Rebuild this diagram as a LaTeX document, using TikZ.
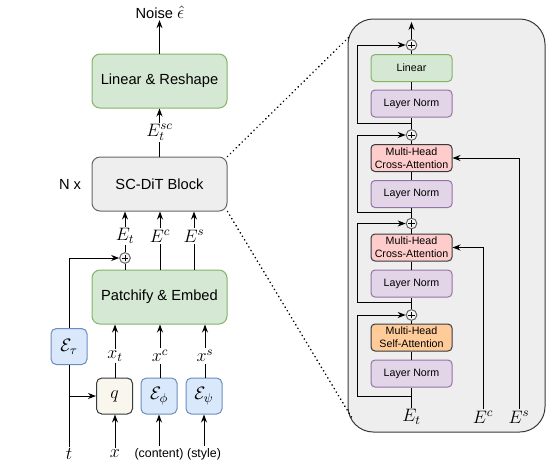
\RequirePackage{fix-cm}
\documentclass[tikz,border=0pt]{standalone}
\usepackage{fontspec}
\setmainfont{Liberation Sans}
\usetikzlibrary{arrows.meta}

\definecolor{grnfill}{HTML}{D5E8D4}
\definecolor{grnline}{HTML}{82B366}
\definecolor{blufill}{HTML}{DAE8FC}
\definecolor{bluline}{HTML}{6C8EBF}
\definecolor{purfill}{HTML}{E1D5E7}
\definecolor{purline}{HTML}{9673A6}
\definecolor{redfill}{HTML}{FFCCCC}
\definecolor{orgfill}{HTML}{FFCC99}
\definecolor{qfill}{HTML}{F9F7ED}
\definecolor{darkline}{HTML}{36393D}
\definecolor{grayfill}{HTML}{EEEEEE}
\definecolor{grayline}{HTML}{666666}

\tikzset{every picture/.style={line width=0.75pt}}
\tikzset{
  arr/.style={-{Stealth[length=6pt,width=4.5pt]}},
  bigbox/.style={draw, rounded corners=6pt, minimum width=101.25pt, minimum height=40.5pt, font=\fontsize{11}{13}\selectfont},
  encbox/.style={draw=bluline, fill=blufill, rounded corners=4pt, minimum width=27pt, minimum height=27pt, font=\fontsize{13.5}{15}\selectfont},
  blkbox/.style={draw, rounded corners=3pt, minimum width=60.75pt, minimum height=20.25pt, inner sep=1pt, align=center, font=\fontsize{8}{10}\selectfont},
  lnbox/.style={blkbox, draw=purline, fill=purfill},
  plus/.style={circle, draw=grayline, fill=white!96!black, minimum size=8pt, inner sep=0pt,
    path picture={\draw[line width=0.6pt, black] ([xshift=-2.5pt]path picture bounding box.center) -- ([xshift=2.5pt]path picture bounding box.center)
      ([yshift=-2.5pt]path picture bounding box.center) -- ([yshift=2.5pt]path picture bounding box.center);}},
  lbl/.style={inner sep=1pt, font=\fontsize{13.5}{15}\selectfont},
  txt/.style={inner sep=1pt, font=\fontsize{11}{13}\selectfont},
  dots/.style={line width=1.3pt, dash pattern=on 0.1pt off 3pt, line cap=round}
}

\begin{document}
\begin{tikzpicture}[x=0.75pt,y=0.75pt,yscale=-1,xscale=1]
\useasboundingbox (0,0) rectangle (548,469);

%Shape: Rounded Rectangle (block detail)
\draw [draw=darkline, fill=grayfill, rounded corners=19pt] (348,19) rectangle (545,432);

% Left column boxes
\node [bigbox, draw=grnline, fill=grnfill] (reshape) at (159.5,81) {Linear \& Reshape};
\node [bigbox, draw=grayline, fill=grayfill] (dit) at (159.5,184) {SC-DiT Block};
\node [bigbox, draw=grnline, fill=grnfill] (patch) at (159.5,297) {Patchify \& Embed};
\node [encbox, draw=darkline, fill=qfill] (q) at (114.5,396) {$q$};
\node [encbox] (ephi) at (159,396) {$\mathcal{E}_\phi$};
\node [encbox] (epsi) at (204,396) {$\mathcal{E}_\psi$};
\node [encbox] (etau) at (69,346.5) {$\mathcal{E}_\tau$};
\node [plus] (addL) at (125,258) {};

% Text Node
\node [txt] (noise) at (160,12) {Noise {\fontsize{13.5}{15}\selectfont$\hat{\epsilon}$}};
\node [txt] (nx) at (70,184) {N x};
\node [lbl] (et) at (125,236) {$E_t$};
\node [lbl] (ec) at (160,236) {$E^c$};
\node [lbl] (es) at (194,236) {$E^s$};
\node [lbl] (xt) at (115,356) {$x_t$};
\node [lbl] (xc) at (160,356) {$x^c$};
\node [lbl] (xs) at (205,356) {$x^s$};
\node [lbl] (tin) at (69,454) {$t$};
\node [lbl] (xin) at (115,454) {$x$};
\node [txt, font=\fontsize{9.3}{11}\selectfont] (cin) at (159,454) {(content)};
\node [txt, font=\fontsize{9.3}{11}\selectfont] (sin) at (204,454) {(style)};

%Straight Lines
\draw [arr] (reshape.north) -- (reshape.north |- noise.south);
\draw [arr] (dit.north) -- node [lbl, fill=white, inner sep=0.5pt] {$E_t^{sc}$} (reshape.south);
\draw [arr] (et.north) -- (et.north |- dit.south);
\draw [arr] (ec.north) -- (ec.north |- dit.south);
\draw [arr] (es.north) -- (es.north |- dit.south);
\draw (addL.north) -- (et.south);
\draw (addL.south |- patch.north) -- (addL.south);
\draw (ec.south |- patch.north) -- (ec.south);
\draw (es.south |- patch.north) -- (es.south);
\draw [arr] (xt.north) -- (xt.north |- patch.south);
\draw [arr] (xc.north) -- (xc.north |- patch.south);
\draw [arr] (xs.north) -- (xs.north |- patch.south);
\draw (q.north -| xt) -- (xt.south);
\draw (ephi.north -| xc) -- (xc.south);
\draw (epsi.north -| xs) -- (xs.south);
\draw [arr] (xin.north) -- (xin.north |- q.south);
\draw [arr] (cin.north) -- (cin.north |- ephi.south);
\draw [arr] (sin.north) -- (sin.north |- epsi.south);
\draw (tin.north) -- (etau.south);
\draw [arr] (tin.north |- q.west) -- (q.west);
\draw [arr] (etau.north) |- (addL.west);

%Dotted Lines
\coordinate (zoomtop) at (350,36);
\coordinate (zoombot) at (352,418);
\draw [dots] (dit.north east) -- (zoomtop);
\draw [dots] (dit.south east) -- (zoombot);

% Block detail
\node [plus] (add1) at (411.5,45) {};
\node [blkbox, draw=grnline, fill=grnfill] (lin) at (411.5,68) {Linear};
\node [lnbox] (ln1) at (411.5,103.5) {Layer Norm};
\node [plus] (add2) at (411.5,135) {};
\node [blkbox, draw=darkline, fill=redfill] (ca1) at (411.5,158) {Multi-Head\\Cross-Attention};
\node [lnbox] (ln2) at (411.5,194) {Layer Norm};
\node [plus] (add3) at (411.5,223.5) {};
\node [blkbox, draw=darkline, fill=redfill] (ca2) at (411.5,247.5) {Multi-Head\\Cross-Attention};
\node [lnbox] (ln3) at (411.5,283.5) {Layer Norm};
\node [plus] (add4) at (411.5,315) {};
\node [blkbox, draw=darkline, fill=orgfill] (sa) at (411.5,337.5) {Multi-Head\\Self-Attention};
\node [lnbox] (ln4) at (411.5,373.5) {Layer Norm};
\node [lbl] (etR) at (411.5,417) {$E_t$};
\node [lbl] (ecR) at (483,417) {$E^c$};
\node [lbl] (esR) at (519,417) {$E^s$};
\coordinate (top) at (411.5,22);

% main path
\draw (etR.north) -- (ln4.south);
\draw (ln4.north) -- (sa.south);
\draw (sa.north) -- (add4.south);
\draw (add4.north) -- (ln3.south);
\draw (ln3.north) -- (ca2.south);
\draw (ca2.north) -- (add3.south);
\draw (add3.north) -- (ln2.south);
\draw (ln2.north) -- (ca1.south);
\draw (ca1.north) -- (add2.south);
\draw (add2.north) -- (ln1.south);
\draw (ln1.north) -- (lin.south);
\draw (lin.north) -- (add1.south);
\draw [arr] (add1.north) -- (top);

% residual paths
\draw [arr] (411.5,396) -- (357,396) |- (add4.west);
\draw [arr] (411.5,302) -- (357,302) |- (add3.west);
\draw [arr] (411.5,212) -- (357,212) |- (add2.west);
\draw [arr] (411.5,123) -- (357,123) |- (add1.west);

% conditions
\draw [arr] (ecR.north) |- (ca2.east);
\draw [arr] (esR.north) |- (ca1.east);

\end{tikzpicture}
\end{document}
